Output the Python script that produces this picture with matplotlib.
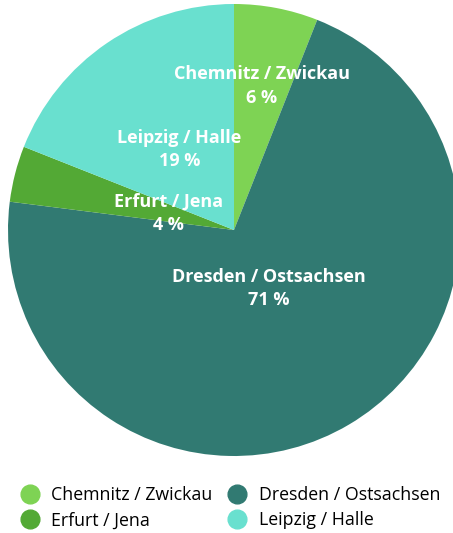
import matplotlib
matplotlib.use("Agg")
import matplotlib.pyplot as plt
from matplotlib.lines import Line2D
import numpy as np

plt.rcParams['font.family'] = ['Open Sans', 'DejaVu Sans']

regions = ['Chemnitz / Zwickau', 'Dresden / Ostsachsen', 'Erfurt / Jena', 'Leipzig / Halle']
shares = [6, 71, 4, 19]
colors = ['#7ed354', '#317a72', '#53a935', '#69e0cf']
label_dist = [0.65, 0.30, 0.30, 0.43]

W, H = 453, 533
fig = plt.figure(figsize=(W / 100, H / 100), dpi=100)

cx, cy, r = 234, 230, 226
ax = fig.add_axes([(cx - r) / W, (H - cy - r) / H, 2 * r / W, 2 * r / H])
wedges, _ = ax.pie(shares, colors=colors, startangle=90, counterclock=False,
                   radius=1, wedgeprops=dict(linewidth=0))
ax.set_xlim(-1, 1)
ax.set_ylim(-1, 1)
ax.set_aspect('equal')
ax.axis('off')

for w, name, val, d in zip(wedges, regions, shares, label_dist):
    ang = np.deg2rad((w.theta1 + w.theta2) / 2)
    x, y = d * np.cos(ang), d * np.sin(ang)
    ax.text(x, y, f'{name}\n{val} %', ha='center', va='center', color='white',
            fontsize=13, fontweight='bold', linespacing=1.4)

handles = [Line2D([], [], marker='o', linestyle='', markersize=13.5,
                  markerfacecolor=c, markeredgecolor=c) for c in colors]
order = [0, 2, 1, 3]
fig.legend([handles[i] for i in order], [regions[i] for i in order], ncol=2,
           loc='upper left', bbox_to_anchor=(19 / W, 1 - 486 / H), frameon=False,
           fontsize=12.8, handletextpad=0.62, columnspacing=0.78,
           labelspacing=0.42, handlelength=1.2, borderpad=0, borderaxespad=0)

fig.savefig('out.png', dpi=100)
